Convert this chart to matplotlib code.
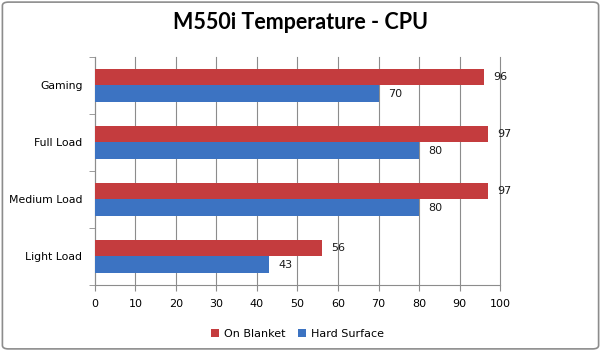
import matplotlib.pyplot as plt
import numpy as np
from matplotlib.patches import FancyBboxPatch

categories = ["Light Load", "Medium Load", "Full Load", "Gaming"]
on_blanket = [56, 97, 97, 96]
hard_surface = [43, 80, 80, 70]
x_ticks = list(range(0, 101, 10))

RED = "#C43C3E"
BLUE = "#3C73C2"
GRID = "#8C8C8C"

fig = plt.figure(figsize=(6.01, 3.51), dpi=100)
ax = fig.add_axes([0.158, 0.188, 0.674, 0.650])

y = np.arange(len(categories))
h = 0.29
ax.barh(y + h / 2, on_blanket, height=h, color=RED, edgecolor="none", label="On Blanket", zorder=3)
ax.barh(y - h / 2, hard_surface, height=h, color=BLUE, edgecolor="none", label="Hard Surface", zorder=3)

for yi, v in zip(y, on_blanket):
    ax.annotate(str(v), (v, yi + h / 2), xytext=(7, 0), textcoords="offset points",
                va="center", ha="left", fontsize=8, color="#1a1a1a")
for yi, v in zip(y, hard_surface):
    ax.annotate(str(v), (v, yi - h / 2), xytext=(7, 0), textcoords="offset points",
                va="center", ha="left", fontsize=8, color="#1a1a1a")

ax.set_xlim(0, 100)
ax.set_ylim(-0.5, len(categories) - 0.5)
ax.set_xticks(x_ticks)
ax.tick_params(axis="x", labelsize=8, length=4, color=GRID, pad=6, direction="out")
ax.set_yticks(y)
ax.set_yticklabels(categories)
ax.tick_params(axis="y", which="major", length=0, labelsize=7.8, pad=9)
ax.set_yticks(np.arange(-0.5, len(categories), 1.0), minor=True)
ax.tick_params(axis="y", which="minor", length=4, color=GRID, direction="out")

ax.grid(axis="x", color=GRID, linewidth=0.8, zorder=0)
for gl in ax.get_xgridlines():
    gl.set_clip_on(False)
for s in ["top", "right"]:
    ax.spines[s].set_visible(False)
for s in ["left", "bottom"]:
    ax.spines[s].set_color(GRID)
    ax.spines[s].set_linewidth(0.8)

fig.text(0.5, 0.935, "M550i Temperature - CPU", ha="center", va="center",
         fontsize=15.5, fontweight="bold", family="Lato")

ax.legend(loc="upper center", bbox_to_anchor=(0.5, -0.15), ncol=2, frameon=False,
          fontsize=8, handlelength=0.7, handleheight=0.7, handletextpad=0.4,
          columnspacing=1.2)

border = FancyBboxPatch((0.004, 0.006), 0.992, 0.988, boxstyle="round,pad=0,rounding_size=0.01",
                        transform=fig.transFigure, fill=False, edgecolor="#8C8C8C", linewidth=1.2)
fig.patches.append(border)

fig.savefig("out.png", dpi=100)
